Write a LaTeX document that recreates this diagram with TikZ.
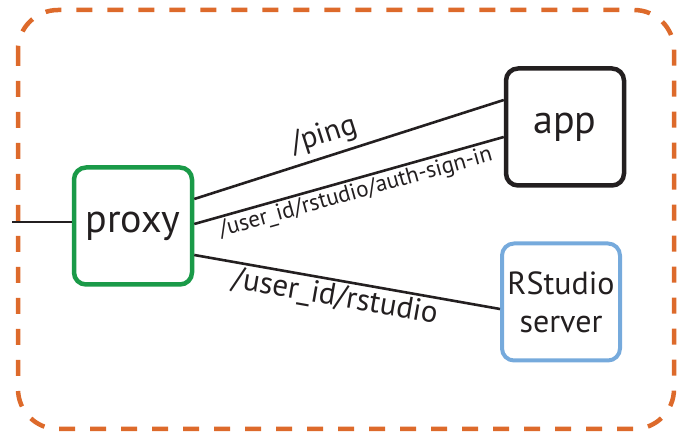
\documentclass[tikz,border=0pt]{standalone}
\usepackage{fontspec}
\setmainfont{PT Sans}
\definecolor{frameorange}{HTML}{DD6A2B}
\definecolor{proxygreen}{HTML}{1A9A48}
\definecolor{serverblue}{HTML}{76AADC}
\definecolor{inkblack}{HTML}{231F20}
\begin{document}
\begin{tikzpicture}[x=1pt,y=-1pt,
  box/.style={draw, line width=4.5pt, rounded corners=12pt, minimum width=118pt, minimum height=117pt, align=center, inner sep=0pt, text=inkblack},
  link/.style={draw=inkblack, line width=2.6pt},
  route/.style={sloped, text=inkblack, inner sep=2pt}]
\useasboundingbox (0,0) rectangle (683,435);
\draw[frameorange, line width=4.5pt, dash pattern=on 16pt off 15pt, rounded corners=40pt] (18,10) rectangle (674,429);
\node[box, draw=proxygreen, font=\fontsize{40}{44}\selectfont] (proxy) at (133,226) {proxy};
\node[box, draw=inkblack, font=\fontsize{40}{44}\selectfont] (app) at (565,127) {app};
\node[box, draw=serverblue, line width=4pt, font=\fontsize{32}{38}\selectfont] (rstudio) at (561,302) {RStudio\\server};
\coordinate (inlet) at (12,222);
\draw[link] (inlet) -- ([yshift=4pt]proxy.west);
\draw[link] ([yshift=27pt]proxy.east) -- node[route, above, inner sep=6pt, pos=0.44, font=\fontsize{30}{33}\selectfont] {/ping} ([yshift=27pt]app.west);
\draw[link] ([yshift=2pt]proxy.east) -- node[route, below, pos=0.51, font=\fontsize{23}{26}\selectfont] {/user\_id/rstudio/auth-sign-in} ([yshift=-10pt]app.west);
\draw[link] ([yshift=-29pt]proxy.east) -- node[route, below, pos=0.47, font=\fontsize{31}{35}\selectfont] {/user\_id/rstudio} ([yshift=-7pt]rstudio.west);
\end{tikzpicture}
\end{document}
